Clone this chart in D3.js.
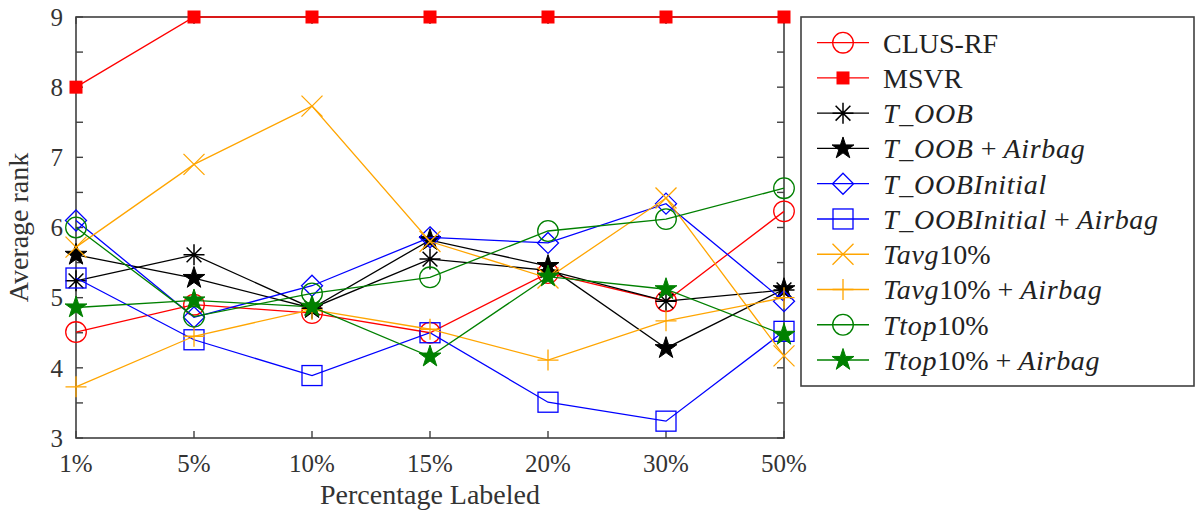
<!DOCTYPE html>
<html>
<head>
<meta charset="utf-8">
<script src="https://cdn.jsdelivr.net/npm/d3@7"></script>
<style>
  html, body { margin: 0; padding: 0; background: #fff; }
  svg { display: block; }
</style>
</head>
<body>
<svg id="chart" width="1195" height="511" font-family="'Liberation Serif', 'Times New Roman', 'DejaVu Serif', serif"></svg>
<script>
// Percentage of labeled examples on the x axis
const categories = ["1%", "5%", "10%", "15%", "20%", "30%", "50%"];

// Average rank of each method per labeled percentage
const clusRF            = [4.51, 4.90, 4.78, 4.50, 5.35, 4.95, 6.23];
const msvr              = [8.00, 9.00, 9.00, 9.00, 9.00, 9.00, 9.00];
const tOOB              = [5.24, 5.61, 4.85, 5.55, 5.39, 4.95, 5.11];
const tOOBAirbag        = [5.61, 5.28, 4.85, 5.82, 5.45, 4.28, 5.12];
const tOOBInitial       = [6.10, 4.72, 5.17, 5.86, 5.78, 6.34, 4.95];
const tOOBInitialAirbag = [5.28, 4.40, 3.89, 4.50, 3.51, 3.24, 4.52];
const tavg10            = [5.72, 6.90, 7.73, 5.80, 5.28, 6.42, 4.17];
const tavg10Airbag      = [3.73, 4.45, 4.83, 4.55, 4.11, 4.67, 5.00];
const ttop10            = [6.00, 4.73, 5.06, 5.29, 5.95, 6.12, 6.56];
const ttop10Airbag      = [4.86, 4.96, 4.87, 4.16, 5.30, 5.12, 4.47];

// Y axis tick labels
const yTickLabels = [3, 4, 5, 6, 7, 8, 9];

// Legend labels: pieces of [text, italic]
const legendLabels = [
  [["CLUS-RF", false]],
  [["MSVR", false]],
  [["T_OOB", true]],
  [["T_OOB", true], [" + ", false], ["Airbag", true]],
  [["T_OOBInitial", true]],
  [["T_OOBInitial", true], [" + ", false], ["Airbag", true]],
  [["Tavg", true], ["10%", false]],
  [["Tavg", true], ["10%", false], [" + ", false], ["Airbag", true]],
  [["Ttop", true], ["10%", false]],
  [["Ttop", true], ["10%", false], [" + ", false], ["Airbag", true]]
];

const RED = "#ff0000", BLACK = "#000000", BLUE = "#0000ff", ORANGE = "#ffa500", GREEN = "#008000";

const series = [
  { values: clusRF,            color: RED,    marker: "circle" },
  { values: msvr,              color: RED,    marker: "filledSquare" },
  { values: tOOB,              color: BLACK,  marker: "asterisk" },
  { values: tOOBAirbag,        color: BLACK,  marker: "pentagram" },
  { values: tOOBInitial,       color: BLUE,   marker: "diamond" },
  { values: tOOBInitialAirbag, color: BLUE,   marker: "square" },
  { values: tavg10,            color: ORANGE, marker: "cross" },
  { values: tavg10Airbag,      color: ORANGE, marker: "plus" },
  { values: ttop10,            color: GREEN,  marker: "circle" },
  { values: ttop10Airbag,      color: GREEN,  marker: "pentagram" }
];

const svg = d3.select("#chart");
const frame = { left: 76, right: 784, top: 17, bottom: 438 };
const axisColor = "#404040";

const x = d3.scalePoint().domain(categories).range([frame.left, frame.right]);
const y = d3.scaleLinear().domain([3, 9]).range([frame.bottom, frame.top]);

// Marker drawing: appends the marker shape centred at (cx, cy)
function drawMarker(g, type, cx, cy, color) {
  const sw = 1.3;
  if (type === "circle") {
    g.append("circle").attr("cx", cx).attr("cy", cy).attr("r", 10.3)
      .attr("fill", "none").attr("stroke", color).attr("stroke-width", sw);
  } else if (type === "filledSquare") {
    const s = 13;
    g.append("rect").attr("x", cx - s / 2).attr("y", cy - s / 2).attr("width", s).attr("height", s)
      .attr("fill", color).attr("stroke", "none");
  } else if (type === "square") {
    const s = 20;
    g.append("rect").attr("x", cx - s / 2).attr("y", cy - s / 2).attr("width", s).attr("height", s)
      .attr("fill", "none").attr("stroke", color).attr("stroke-width", sw);
  } else if (type === "diamond") {
    const r = 10.5;
    const p = d3.path();
    p.moveTo(cx, cy - r); p.lineTo(cx + r, cy); p.lineTo(cx, cy + r); p.lineTo(cx - r, cy); p.closePath();
    g.append("path").attr("d", p.toString()).attr("fill", "none").attr("stroke", color).attr("stroke-width", sw);
  } else if (type === "cross") {
    const r = 10.5;
    const p = d3.path();
    p.moveTo(cx - r, cy - r); p.lineTo(cx + r, cy + r);
    p.moveTo(cx - r, cy + r); p.lineTo(cx + r, cy - r);
    g.append("path").attr("d", p.toString()).attr("fill", "none").attr("stroke", color).attr("stroke-width", sw);
  } else if (type === "plus") {
    const r = 10.5;
    const p = d3.path();
    p.moveTo(cx - r, cy); p.lineTo(cx + r, cy);
    p.moveTo(cx, cy - r); p.lineTo(cx, cy + r);
    g.append("path").attr("d", p.toString()).attr("fill", "none").attr("stroke", color).attr("stroke-width", sw);
  } else if (type === "asterisk") {
    const r = 10.5, d = 7.4;
    const p = d3.path();
    p.moveTo(cx - r, cy); p.lineTo(cx + r, cy);
    p.moveTo(cx, cy - r); p.lineTo(cx, cy + r);
    p.moveTo(cx - d, cy - d); p.lineTo(cx + d, cy + d);
    p.moveTo(cx - d, cy + d); p.lineTo(cx + d, cy - d);
    g.append("path").attr("d", p.toString()).attr("fill", "none").attr("stroke", color).attr("stroke-width", 1.5);
  } else if (type === "pentagram") {
    const R = 11.5, r = R * 0.382;
    const p = d3.path();
    for (let i = 0; i < 10; i++) {
      const a = -Math.PI / 2 + i * Math.PI / 5;
      const rad = i % 2 === 0 ? R : r;
      const px = cx + rad * Math.cos(a), py = cy + rad * Math.sin(a);
      if (i === 0) p.moveTo(px, py); else p.lineTo(px, py);
    }
    p.closePath();
    g.append("path").attr("d", p.toString()).attr("fill", color).attr("stroke", color).attr("stroke-width", 1);
  }
}

// Plot frame
svg.append("rect")
  .attr("x", frame.left).attr("y", frame.top)
  .attr("width", frame.right - frame.left).attr("height", frame.bottom - frame.top)
  .attr("fill", "none").attr("stroke", axisColor).attr("stroke-width", 1.6);

// Tick marks on all four sides (inward)
const tickLen = 7;
const yTicks = d3.range(3, 9.01, 0.5);
const ticks = svg.append("g").attr("stroke", axisColor).attr("stroke-width", 1.4);
yTicks.forEach(v => {
  ticks.append("line").attr("x1", frame.left).attr("x2", frame.left + tickLen).attr("y1", y(v)).attr("y2", y(v));
  ticks.append("line").attr("x1", frame.right).attr("x2", frame.right - tickLen).attr("y1", y(v)).attr("y2", y(v));
});
categories.forEach(c => {
  ticks.append("line").attr("x1", x(c)).attr("x2", x(c)).attr("y1", frame.bottom).attr("y2", frame.bottom - tickLen);
  ticks.append("line").attr("x1", x(c)).attr("x2", x(c)).attr("y1", frame.top).attr("y2", frame.top + tickLen);
});

// Y tick labels
svg.append("g").selectAll("text").data(yTickLabels).join("text")
  .attr("x", frame.left - 13).attr("y", d => y(d)).attr("dy", "0.35em")
  .attr("text-anchor", "end").attr("font-size", 25).attr("fill", "#333")
  .text(d => d);

// X tick labels
svg.append("g").selectAll("text").data(categories).join("text")
  .attr("x", d => x(d)).attr("y", 472)
  .attr("text-anchor", "middle").attr("font-size", 25).attr("fill", "#333")
  .text(d => d);

// Axis titles
svg.append("text")
  .attr("x", (frame.left + frame.right) / 2).attr("y", 504)
  .attr("text-anchor", "middle").attr("font-size", 28).attr("fill", "#333")
  .text("Percentage Labeled");

svg.append("text")
  .attr("transform", `translate(28, ${(frame.top + frame.bottom) / 2}) rotate(-90)`)
  .attr("text-anchor", "middle").attr("font-size", 28).attr("fill", "#333")
  .text("Average rank");

// Series lines and markers
const line = d3.line().x((d, i) => x(categories[i])).y(d => y(d));
series.forEach(s => {
  const g = svg.append("g");
  g.append("path").datum(s.values).attr("d", line)
    .attr("fill", "none").attr("stroke", s.color).attr("stroke-width", 1.3);
  s.values.forEach((v, i) => drawMarker(g, s.marker, x(categories[i]), y(v), s.color));
});

// Legend
const legend = svg.append("g");
legend.append("rect")
  .attr("x", 801).attr("y", 17).attr("width", 393).attr("height", 369)
  .attr("fill", "#fff").attr("stroke", axisColor).attr("stroke-width", 1.6);

const rowY = d3.scaleLinear().domain([0, series.length - 1]).range([42.7, 360]);
series.forEach((s, i) => {
  const cy = rowY(i);
  const g = legend.append("g");
  g.append("line").attr("x1", 817).attr("x2", 869).attr("y1", cy).attr("y2", cy)
    .attr("stroke", s.color).attr("stroke-width", 1.3);
  drawMarker(g, s.marker, 843, cy, s.color);
  const t = g.append("text").attr("x", 883).attr("y", cy).attr("dy", "0.35em")
    .attr("font-size", 28).attr("fill", "#222").style("white-space", "pre");
  legendLabels[i].forEach(([txt, it]) => {
    t.append("tspan").attr("font-style", it ? "italic" : "normal")
      .attr("letter-spacing", it ? 0.7 : 0).text(txt);
  });
});
</script>
</body>
</html>
